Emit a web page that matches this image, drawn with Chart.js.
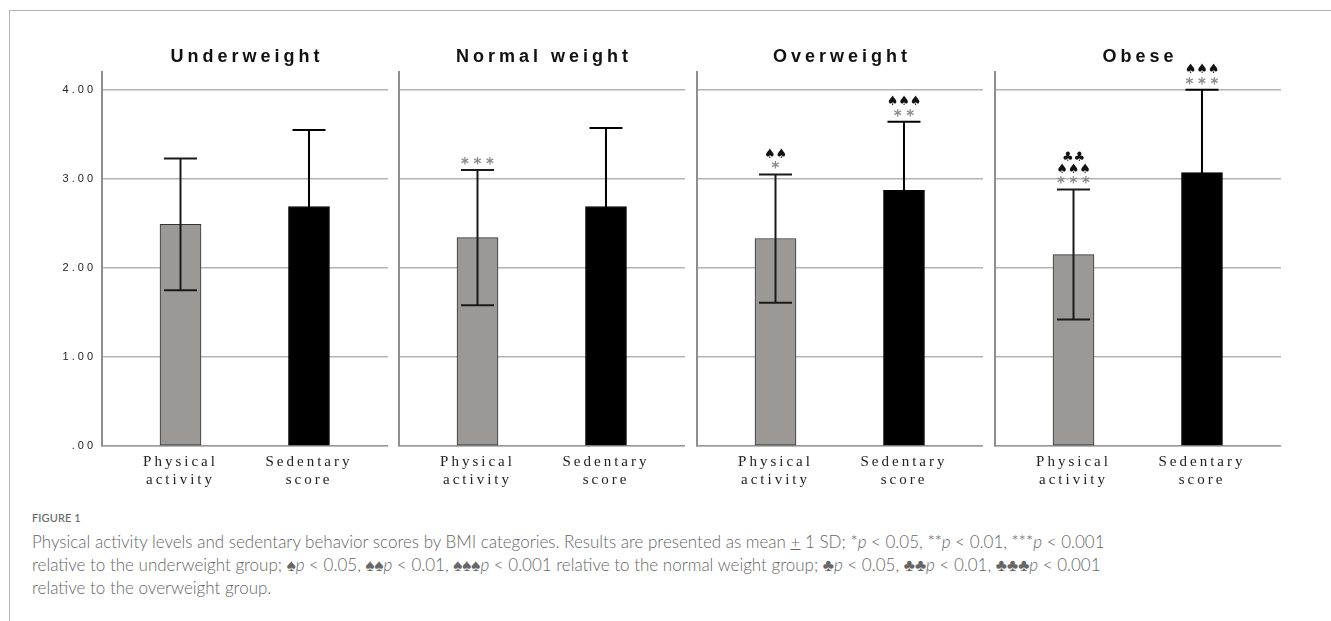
<!DOCTYPE html>
<html><head><meta charset="utf-8">
<script src="https://cdn.jsdelivr.net/npm/chart.js@4.4.1/dist/chart.umd.min.js"></script>
<style>
html,body{margin:0;padding:0;background:#fff;width:1331px;height:621px;overflow:hidden;position:relative;}
#frame{position:absolute;left:9px;top:10px;width:1400px;height:700px;border-top:1.5px solid #b4b4b4;border-left:1.5px solid #b4b4b4;}
canvas.p{position:absolute;top:40px;}
#fig{position:absolute;left:32px;top:511px;font-family:Lato,"Open Sans",sans-serif;font-size:11px;font-weight:500;color:#666;letter-spacing:0.1px;}
#cap{position:absolute;left:32px;top:530px;font-family:Lato,"Open Sans",sans-serif;font-size:17px;font-weight:300;line-height:23px;color:#666;white-space:nowrap;}
</style>
</head><body>
<div id="frame"></div>
<canvas class="p" id="c0" width="346" height="460"></canvas>
<canvas class="p" id="c1" width="346" height="460"></canvas>
<canvas class="p" id="c2" width="346" height="460"></canvas>
<canvas class="p" id="c3" width="346" height="460"></canvas>
<div id="fig">FIGURE 1</div>
<div id="cap">Physical activity levels and sedentary behavior scores by BMI categories. Results are presented as mean <u>+</u> 1 SD; *<i>p</i> &lt; 0.05, **<i>p</i> &lt; 0.01, ***<i>p</i> &lt; 0.001<br>relative to the underweight group; ♠<i>p</i> &lt; 0.05, ♠♠<i>p</i> &lt; 0.01, ♠♠♠<i>p</i> &lt; 0.001 relative to the normal weight group; ♣<i>p</i> &lt; 0.05, ♣♣<i>p</i> &lt; 0.01, ♣♣♣<i>p</i> &lt; 0.001<br>relative to the overweight group.</div>
<script>
// ---- data ----
const panelTitles = ['Underweight', 'Normal weight', 'Overweight', 'Obese'];
const categories = [['Physical', 'activity'], ['Sedentary', 'score']];
const paMean = [2.49, 2.34, 2.33, 2.15];
const paSD = [0.74, 0.76, 0.72, 0.73];
const sedMean = [2.69, 2.69, 2.87, 3.07];
const sedSD = [0.86, 0.88, 0.77, 0.93];
const yTicks = [0, 1, 2, 3, 4];
const paMarks = [[], ['***'], ['*', '♠♠'], ['***', '♠♠♠', '♣♣']];
const sedMarks = [[], [], ['**', '♠♠♠'], ['***', '♠♠♠']];

// ---- layout ----
const axisX = [102, 399, 697, 995];
const Y_AXIS_W = 60;

const errPlugin = {
  id: 'errbars',
  beforeUpdate(chart) { chart.ctx.letterSpacing = '3px'; },
  beforeDraw(chart) { chart.ctx.letterSpacing = '3px'; },
  afterDatasetsDraw(chart, args, opts) {
    const ctx = chart.ctx, xs = chart.scales.x, ys = chart.scales.y;
    const p = opts.panel;
    const means = [paMean[p], sedMean[p]], sds = [paSD[p], sedSD[p]];
    const marks = [paMarks[p], sedMarks[p]];
    ctx.save();
    ctx.letterSpacing = '0px';
    for (let i = 0; i < 2; i++) {
      const x = xs.getPixelForValue(i);
      const yt = ys.getPixelForValue(means[i] + sds[i]);
      const yb = ys.getPixelForValue(means[i] - sds[i]);
      ctx.strokeStyle = i === 0 ? '#1a1a1a' : '#000';
      ctx.lineWidth = 2;
      ctx.beginPath();
      ctx.moveTo(x, yt); ctx.lineTo(x, yb);
      ctx.moveTo(x - 16.5, yt); ctx.lineTo(x + 16.5, yt);
      ctx.moveTo(x - 16.5, yb); ctx.lineTo(x + 16.5, yb);
      ctx.stroke();
      // significance marks
      marks[i].forEach((row, r) => {
        const yy = yt - 8 - r * 12;
        const isStar = row[0] === '*';
        ctx.fillStyle = isStar ? '#8a8a8a' : '#111';
        ctx.font = isStar ? 'bold 15px "DejaVu Sans"' : '13px "DejaVu Sans"';
        ctx.textAlign = 'center';
        ctx.textBaseline = 'middle';
        const n = row.length, step = isStar ? 12.5 : 11.5;
        for (let k = 0; k < n; k++) {
          const cx = x + (k - (n - 1) / 2) * step;
          ctx.fillText(row[k], cx, isStar ? yy + 3 : yy);
        }
      });
    }
    // panel title
    ctx.letterSpacing = '4px';
    ctx.fillStyle = '#111';
    ctx.font = 'bold 18px "Liberation Sans"';
    ctx.textAlign = 'center';
    ctx.textBaseline = 'middle';
    const ca = chart.chartArea;
    ctx.fillText(panelTitles[p], (ca.left + ca.right) / 2 + 2, ca.top - 15);
    ctx.restore();
  }
};

for (let p = 0; p < 4; p++) {
  const cv = document.getElementById('c' + p);
  cv.style.left = (axisX[p] - Y_AXIS_W) + 'px';
  new Chart(cv, {
    type: 'bar',
    data: {
      datasets: [{
        data: [{x: 0, y: paMean[p]}, {x: 1, y: sedMean[p]}],
        backgroundColor: ['#9c9895', '#000000'],
        borderColor: ['#333333', '#000000'],
        borderWidth: 1,
        barThickness: 41,
        borderSkipped: false
      }]
    },
    options: {
      responsive: false,
      animation: false,
      devicePixelRatio: 1,
      layout: {padding: {top: 32, left: 0, right: 0, bottom: 0}},
      plugins: {legend: {display: false}, tooltip: {enabled: false}, title: {display: false},
        errbars: {panel: p}},
      scales: {
        x: {
          type: 'linear',
          offset: false,
          bounds: 'data',
          min: -0.611, max: 1.615,
          grid: {display: false, drawTicks: false, offset: false},
          border: {display: true, color: '#9a9a9a', width: 1.5},
          afterBuildTicks(axis) { axis.ticks = [0, 1].map(v => ({value: v})); },
          afterFit(scale) { scale.height = 54; },
          ticks: {
            autoSkip: false, maxRotation: 0, minRotation: 0, padding: 7,
            color: '#222', font: {family: '"Liberation Serif"', size: 15, lineHeight: 1.2},
            callback: (v) => categories[v]
          }
        },
        y: {
          min: 0, max: 4.2,
          afterBuildTicks(axis) { axis.ticks = yTicks.map(v => ({value: v})); },
          afterFit(scale) { scale.width = Y_AXIS_W; },
          grid: {color: '#b3b3b3', lineWidth: 1.5, drawTicks: false},
          border: {display: true, color: '#8e8e8e', width: 2},
          ticks: {
            padding: 6,
            color: p === 0 ? '#222' : 'rgba(0,0,0,0)',
            font: {family: '"Liberation Sans"', size: 11},
            callback: (v) => v === 0 ? '.00' : v.toFixed(2)
          }
        }
      }
    },
    plugins: [errPlugin]
  });
}
</script>
</body></html>
